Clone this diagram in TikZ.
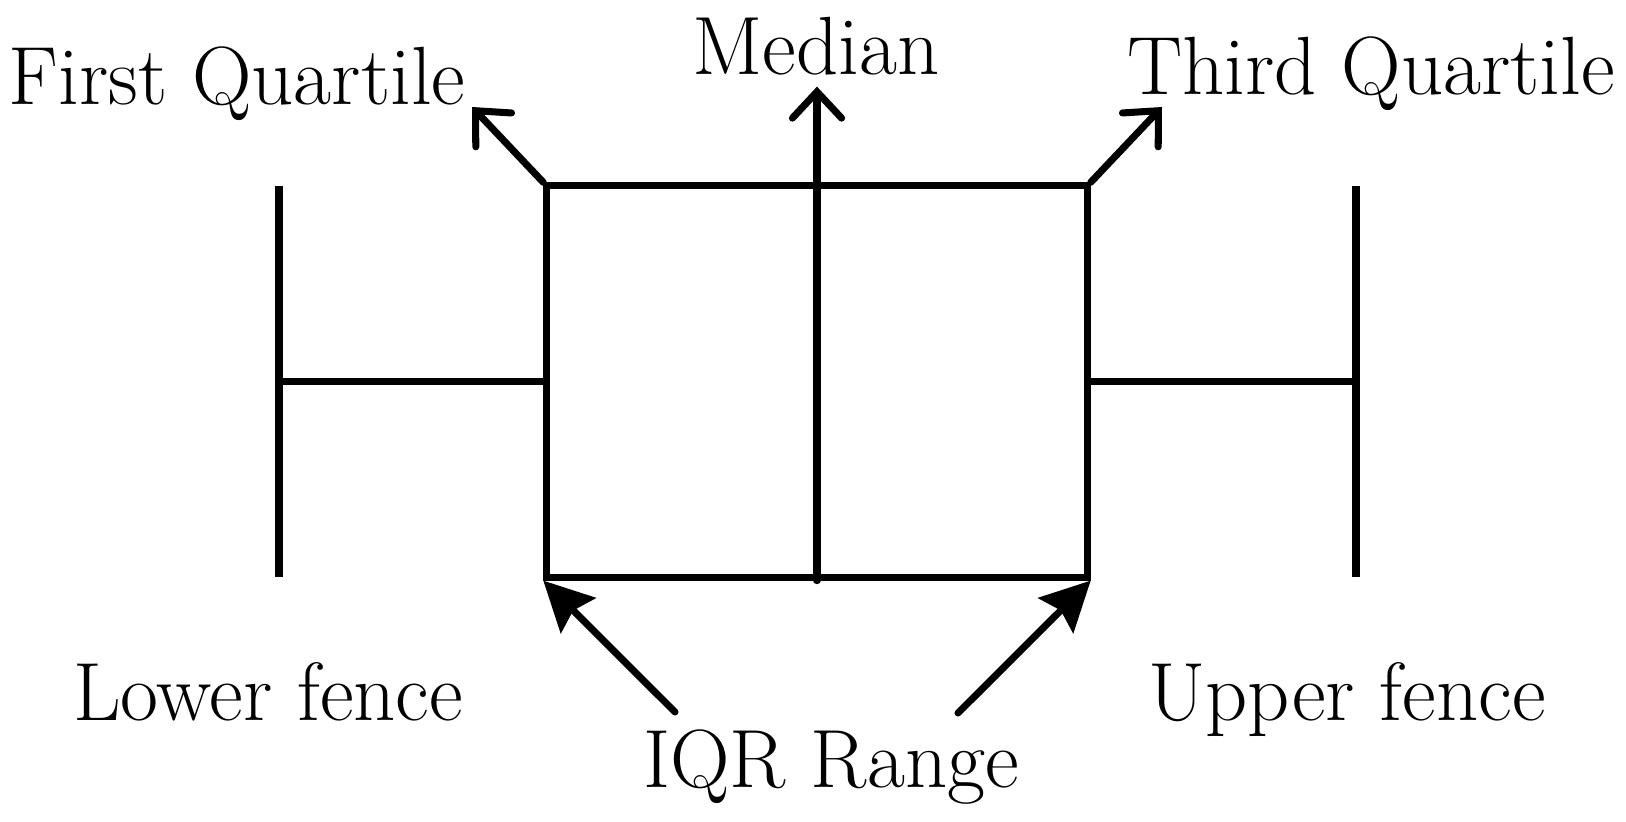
\documentclass[tikz,border=0pt]{standalone}
\usetikzlibrary{arrows.meta,positioning,calc}
\definecolor{Ink}{HTML}{000000}

\tikzset{
  stroke/.style={Ink,line width=2pt},
  openhead/.style={stroke,line cap=round,-{Straight Barb[length=7.5pt,width=14pt,line cap=round]}},
  solidhead/.style={stroke,line cap=round,-{Stealth[length=14pt,width=14pt,inset=2pt]}},
  caption/.style={anchor=base,inner sep=0pt,font=\fontsize{23.5pt}{28pt}\selectfont}
}

\begin{document}
\begin{tikzpicture}[x=0.01cm,y=-0.01cm]
        \useasboundingbox (0,0) rectangle (1626,822);
        % box
        \node[stroke,draw,minimum width=5.4cm,minimum height=3.91cm,inner sep=0pt] (box) at (817,381.5) {};
        % whiskers
        \coordinate (lowtop) at (279,186);
        \coordinate (lowbot) at (279,577);
        \coordinate (uptop) at (1356,186);
        \coordinate (upbot) at (1356,577);
        \draw[stroke] (lowtop) -- (lowbot);
        \draw[stroke] (uptop) -- (upbot);
        \draw[stroke] (lowtop |- box.west) -- (box.west);
        \draw[stroke] (box.east) -- (uptop |- box.east);
        % labels
        \node[caption] (firstq) at (237,105) {First Quartile};
        \node[caption] (median) at (816,75) {Median};
        \node[caption] (thirdq) at (1371,95) {Third Quartile};
        \node[caption] (lowfence) at (268,721) {Lower fence};
        \node[caption] (upfence) at (1347,721) {Upper fence};
        \node[caption] (iqr) at (831,788) {IQR Range};
        % pointers
        \coordinate (firstq tip) at (472,107);
        \coordinate (median tip) at ($(box.south)+(0,-494)$);
        \coordinate (thirdq tip) at (1162,107);
        \coordinate (iqr left) at (675,712);
        \coordinate (iqr right) at (958,713);
        \draw[openhead] (box.north west) -- (firstq tip);
        \draw[openhead] (box.south) -- (median tip);
        \draw[openhead] (box.north east) -- (thirdq tip);
        \draw[solidhead] (iqr left) -- (box.south west);
        \draw[solidhead] (iqr right) -- (box.south east);
      \end{tikzpicture}
\end{document}
